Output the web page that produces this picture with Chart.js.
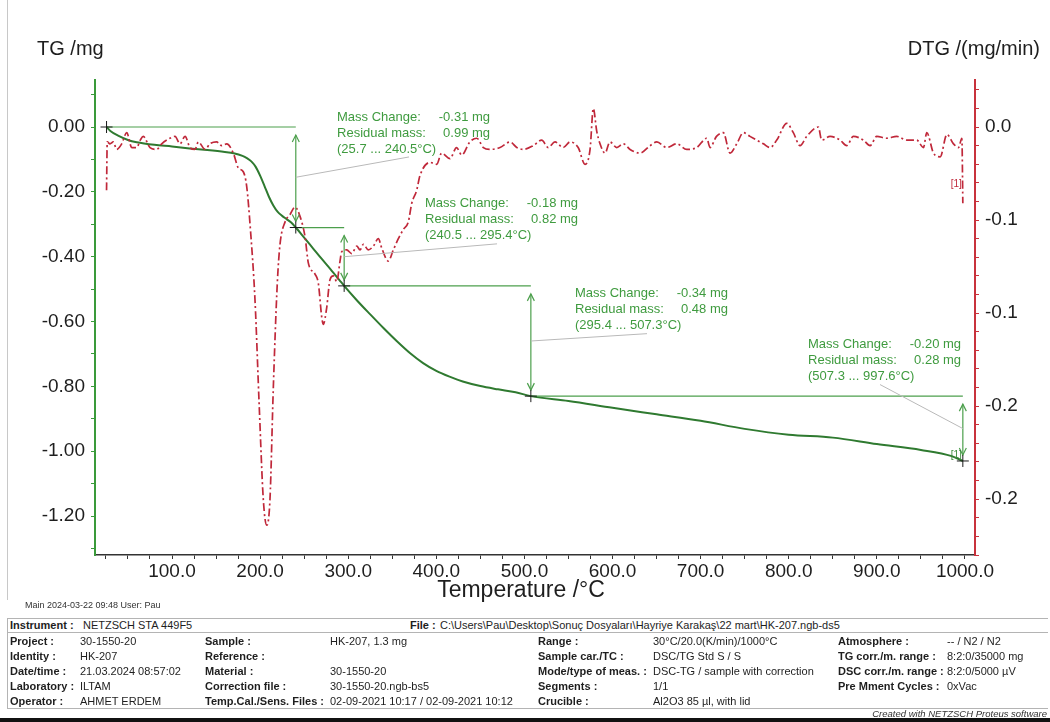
<!DOCTYPE html>
<html>
<head>
<meta charset="utf-8">
<title>HK-207 TG / DTG</title>
<script src="https://cdn.jsdelivr.net/npm/chart.js@4.4.1/dist/chart.umd.min.js"></script>
<style>
  html, body { margin: 0; padding: 0; background: #fff; }
  body { width: 1050px; height: 722px; position: relative; overflow: hidden;
         font-family: "Liberation Sans", Arial, sans-serif; }
  #plot { position: absolute; left: 0; top: 0; }
  .vline { position: absolute; left: 7px; top: 0; width: 1px; height: 600px; background: #c8c8c8; }
  .hl { position: absolute; left: 7px; width: 1041px; height: 1px; background: #b4b4b4; }
  .box { position: absolute; left: 7px; top: 618px; width: 1040px; height: 89px;
         border: 1px solid #b4b4b4; border-right: none; }
  .bar { position: absolute; left: 0; top: 718px; width: 1050px; height: 4px; background: #111; }
  .t { position: absolute; white-space: nowrap; font-size: 11px; line-height: 13px; color: #1e1e1e; }
  .b { font-weight: bold; }
  .small { font-size: 9px; color: #333; }
  .foot { font-size: 9.5px; font-style: italic; color: #333; }
</style>
</head>
<body>
<canvas id="plot" width="1050" height="610"></canvas>
<div class="vline"></div>
<div class="box"></div>
<div class="hl" style="top:632px"></div>
<div class="bar"></div>
<div id="info"></div>

<script>
// ---- measured curves -------------------------------------------------------
// TG: temperature (°C) and mass change (mg)
const tgTemp = [25.7, 30, 40, 50, 60, 80, 100, 120, 140, 160, 170, 180, 185, 190, 195,
  200, 205, 210, 215, 220, 225, 230, 235, 240.5, 250, 260, 270, 280, 290, 295.4,
  310, 325, 340, 355, 370, 385, 400, 415, 430, 450, 470, 490, 507.3,
  550, 600, 650, 700, 750, 800, 850, 900, 950, 985, 997.6];
const tgMass = [0.000, -0.012, -0.028, -0.040, -0.047, -0.055, -0.060, -0.066, -0.071, -0.077, -0.081, -0.089, -0.096, -0.106, -0.123,
  -0.150, -0.182, -0.215, -0.242, -0.262, -0.274, -0.284, -0.294, -0.310, -0.341, -0.374, -0.407, -0.439, -0.472, -0.490,
  -0.535, -0.578, -0.620, -0.660, -0.697, -0.728, -0.752, -0.770, -0.785, -0.799, -0.809, -0.818, -0.830,
  -0.845, -0.866, -0.886, -0.906, -0.931, -0.949, -0.958, -0.978, -0.996, -1.015, -1.030];

// DTG: temperature (°C) and rate (mg/min)
const dtgTemp = [25.7, 26.5, 29.6, 33.4, 37.2, 42.9, 48.6, 54.3, 59.9, 64, 67.4, 75, 82.6, 88.3, 97.7,
  103.4, 109.1, 114.8, 120.4, 126.1, 129.9, 137.5, 143.1, 150.7, 156.4, 162.1, 169.6, 175.3, 180.9, 184.8,
  189, 194.2, 199, 203.6, 207.5, 211.2, 215, 219.5, 222.6, 228.3, 234, 239.6, 245.3, 251, 254.7,
  262.3, 266.1, 269.9, 271.7, 275.6, 279.3, 283.1, 287, 290.7, 292.6, 298.3, 304, 309.7, 313.4, 317.2,
  322.8, 328.5, 334.2, 338, 345.5, 351.2, 356.9, 362.6, 368.2, 372.1, 377.7, 381.5, 392.8, 400.4, 406,
  415.5, 423, 428.8, 438, 445.9, 453.4, 461, 472.3, 483.7, 491.3, 498.8, 510, 519.6, 527, 534.7,
  544, 551.8, 561, 568.8, 574.5, 578.2, 582, 585.8, 591.5, 597, 604.8, 612.3, 619.9, 631.2, 642.6,
  650.2, 661.5, 672.9, 684.2, 695.6, 706.9, 710.7, 718, 725.7, 733.4, 741, 748.5, 756, 763.7, 771.2,
  778.8, 786.4, 797.7, 805.2, 812.8, 820.4, 833.6, 837.4, 846.9, 858.2, 865.8, 873.3, 884.7, 892.3, 899.9,
  911.2, 922.6, 934, 945.3, 952.9, 956.7, 964.3, 971.9, 979.5, 987, 992.7, 996.5, 997.6];
const dtgRate = [-0.034, -0.008, -0.009, -0.008, -0.012, -0.009, -0.003, -0.011, -0.011, -0.007, -0.005, -0.011, -0.012, -0.009, -0.006,
  -0.005, -0.009, -0.005, -0.011, -0.012, -0.008, -0.012, -0.009, -0.008, -0.010, -0.009, -0.014, -0.022, -0.024, -0.032,
  -0.055, -0.093, -0.150, -0.200, -0.214, -0.200, -0.140, -0.084, -0.063, -0.051, -0.047, -0.043, -0.048, -0.059, -0.073,
  -0.079, -0.084, -0.102, -0.106, -0.097, -0.082, -0.080, -0.083, -0.072, -0.067, -0.066, -0.068, -0.064, -0.066, -0.063,
  -0.066, -0.064, -0.060, -0.065, -0.072, -0.066, -0.060, -0.055, -0.051, -0.041, -0.034, -0.026, -0.019, -0.020, -0.014,
  -0.017, -0.011, -0.015, -0.008, -0.006, -0.011, -0.012, -0.011, -0.008, -0.011, -0.012, -0.010, -0.007, -0.011, -0.008,
  -0.011, -0.008, -0.011, -0.020, -0.012, 0.010, -0.002, -0.009, -0.014, -0.008, -0.011, -0.009, -0.012, -0.014, -0.010,
  -0.008, -0.011, -0.009, -0.012, -0.011, -0.006, -0.011, -0.005, -0.003, -0.014, -0.009, -0.003, -0.005, -0.007, -0.009,
  -0.011, -0.007, 0.002, -0.003, -0.010, -0.005, 0.000, -0.007, -0.005, -0.007, -0.010, -0.005, -0.007, -0.010, -0.005,
  -0.006, -0.005, -0.007, -0.007, -0.011, -0.003, -0.014, -0.016, -0.004, -0.009, -0.011, -0.006, -0.041];

// ---- evaluated mass-loss steps -------------------------------------------
const stepStart    = [25.7, 240.5, 295.4, 507.3];
const stepEnd      = [240.5, 295.4, 507.3, 997.6];
const massChange   = [-0.31, -0.18, -0.34, -0.20];
const residualMass = [0.99, 0.82, 0.48, 0.28];

// ---- axis tick labels ------------------------------------------------------
const dtgTickLabels = ['0.0', '-0.1', '-0.1', '-0.2', '-0.2'];

// ---- measurement header table ---------------------------------------------
const infoRows = [
  ['Project :', '30-1550-20', 'Sample :', 'HK-207, 1.3 mg', 'Range :', '30°C/20.0(K/min)/1000°C', 'Atmosphere :', '-- / N2 / N2'],
  ['Identity :', 'HK-207', 'Reference :', '', 'Sample car./TC :', 'DSC/TG Std S / S', 'TG corr./m. range :', '8:2:0/35000 mg'],
  ['Date/time :', '21.03.2024 08:57:02', 'Material :', '30-1550-20', 'Mode/type of meas. :', 'DSC-TG / sample with correction', 'DSC corr./m. range :', '8:2:0/5000 µV'],
  ['Laboratory :', 'ILTAM', 'Correction file :', '30-1550-20.ngb-bs5', 'Segments :', '1/1', 'Pre Mment Cycles :', '0xVac'],
  ['Operator :', 'AHMET ERDEM', 'Temp.Cal./Sens. Files :', '02-09-2021 10:17 / 02-09-2021 10:12', 'Crucible :', 'Al2O3 85 µl, with lid', '', '']
];

// build the header table as positioned text
(function buildInfo() {
  const host = document.getElementById('info');
  const add = (txt, x, y, cls) => {
    const d = document.createElement('div');
    d.className = 't ' + (cls || '');
    d.style.left = x + 'px';
    d.style.top = y + 'px';
    d.textContent = txt;
    host.appendChild(d);
    return d;
  };
  add('Main    2024-03-22 09:48    User: Pau', 25, 599, 'small');
  add('Instrument :', 10, 619, 'b');
  add('NETZSCH STA 449F5', 83, 619);
  add('File :', 410, 619, 'b');
  add('C:\\Users\\Pau\\Desktop\\Sonuç Dosyaları\\Hayriye Karakaş\\22 mart\\HK-207.ngb-ds5', 440, 619);
  const colX = [10, 80, 205, 330, 538, 653, 838, 947];
  const rowY = [635, 650, 664.5, 679.5, 694.5];
  infoRows.forEach((row, r) => {
    row.forEach((txt, c) => {
      if (txt) add(txt, colX[c], rowY[r], c % 2 === 0 ? 'b' : '');
    });
  });
  const f = add('Created with NETZSCH Proteus software', 0, 707, 'foot');
  f.style.left = 'auto';
  f.style.right = '3px';
})();

// ---- chart -----------------------------------------------------------------
const FONT = '"Liberation Sans", Arial, sans-serif';
Chart.defaults.font.family = FONT;

const GREEN_TXT = '#3f9b3f';
const GREEN_LINE = '#4c9f4c';

// step annotations: reference lines, double arrows, '+' marks and result text
const stepMarks = {
  id: 'stepMarks',
  afterDatasetsDraw(chart) {
    const { ctx, scales: { x, yTG, yDTG } } = chart;
    const px = t => x.getPixelForValue(t);
    const py = v => yTG.getPixelForValue(v);

    const levels = [0];
    massChange.forEach((m, i) => levels.push(Math.round((levels[i] + m) * 100) / 100));

    // where each result block sits (°C, mg)
    const textAt = [[287.3, 0.031], [387.2, -0.237], [557.4, -0.514], [821.9, -0.671]];

    ctx.save();
    ctx.lineCap = 'butt';

    const arrowHead = (xx, yy, dir) => {
      ctx.beginPath();
      ctx.moveTo(xx - 3.5, yy - dir * 7);
      ctx.lineTo(xx, yy);
      ctx.lineTo(xx + 3.5, yy - dir * 7);
      ctx.stroke();
    };
    const plus = (xx, yy) => {
      ctx.strokeStyle = '#1a1a1a';
      ctx.lineWidth = 1;
      ctx.beginPath();
      ctx.moveTo(xx - 6, yy); ctx.lineTo(xx + 6, yy);
      ctx.moveTo(xx, yy - 6); ctx.lineTo(xx, yy + 6);
      ctx.stroke();
    };

    for (let i = 0; i < massChange.length; i++) {
      const x0 = px(stepStart[i]), x1 = px(stepEnd[i]);
      const yA = py(levels[i]), yB = py(levels[i + 1]);

      // reference level of the step
      ctx.strokeStyle = GREEN_LINE;
      ctx.lineWidth = 1.2;
      ctx.beginPath();
      ctx.moveTo(x0, yA); ctx.lineTo(x1, yA);
      ctx.stroke();

      // double arrow spanning the step
      const top = yA + 8, bot = yB - 6;
      ctx.beginPath();
      ctx.moveTo(x1, top); ctx.lineTo(x1, bot);
      ctx.stroke();
      arrowHead(x1, top, -1);
      arrowHead(x1, bot, 1);

      // result text
      const tx = px(textAt[i][0]), ty = py(textAt[i][1]);
      ctx.fillStyle = GREEN_TXT;
      ctx.font = '13px ' + FONT;
      ctx.textBaseline = 'middle';
      ctx.textAlign = 'left';
      ctx.fillText('Mass Change:', tx, ty);
      ctx.fillText('Residual mass:', tx, ty + 16);
      ctx.fillText('(' + stepStart[i].toFixed(1) + ' ... ' + stepEnd[i].toFixed(1) + '°C)', tx, ty + 32);
      ctx.textAlign = 'right';
      ctx.fillText(massChange[i].toFixed(2) + ' mg', tx + 153, ty);
      ctx.fillText(residualMass[i].toFixed(2) + ' mg', tx + 153, ty + 16);

      // leader from the arrow to the text block
      ctx.strokeStyle = '#b9b9b9';
      ctx.lineWidth = 1;
      ctx.beginPath();
      ctx.moveTo(x1, (yA + yB) / 2);
      ctx.lineTo(tx + 72, ty + 40);
      ctx.stroke();
    }

    // '+' marks on the TG curve at every step limit
    plus(px(stepStart[0]), py(levels[0]));
    for (let i = 0; i < stepEnd.length; i++) plus(px(stepEnd[i]), py(levels[i + 1]));

    // segment markers at the curve ends
    ctx.font = '10px ' + FONT;
    ctx.textAlign = 'right';
    ctx.textBaseline = 'middle';
    ctx.fillStyle = '#3a8a3a';
    ctx.fillText('[1]', px(tgTemp[tgTemp.length - 1]) - 1, py(tgMass[tgMass.length - 1]) - 6);
    ctx.fillStyle = '#c0283a';
    ctx.fillText('[1]', px(dtgTemp[dtgTemp.length - 1]) - 1, yDTG.getPixelForValue(-0.031));

    // axis headings
    ctx.fillStyle = '#1e1e1e';
    ctx.font = '20px ' + FONT;
    ctx.textAlign = 'left';
    ctx.fillText('TG /mg', 37, 49);
    ctx.textAlign = 'right';
    ctx.fillText('DTG /(mg/min)', 1040, 49);
    ctx.font = '23px ' + FONT;
    ctx.textAlign = 'center';
    ctx.fillText('Temperature /°C', 521, 591);
    ctx.restore();
  }
};

const tickFont = { size: 19, family: FONT };

new Chart(document.getElementById('plot'), {
  type: 'line',
  data: {
    datasets: [
      {
        label: 'DTG',
        data: dtgTemp.map((t, i) => ({ x: t, y: dtgRate[i] })),
        yAxisID: 'yDTG',
        borderColor: '#c0283a',
        borderWidth: 1.7,
        borderDash: [8, 3, 2, 3],
        pointRadius: 0,
        cubicInterpolationMode: 'monotone',
        fill: false
      },
      {
        label: 'TG',
        data: tgTemp.map((t, i) => ({ x: t, y: tgMass[i] })),
        yAxisID: 'yTG',
        borderColor: '#2f7a30',
        borderWidth: 2,
        pointRadius: 0,
        cubicInterpolationMode: 'monotone',
        fill: false
      }
    ]
  },
  options: {
    responsive: false,
    animation: false,
    devicePixelRatio: 1,
    layout: { padding: { top: 80, left: 0, right: 0, bottom: 0 } },
    plugins: { legend: { display: false }, tooltip: { enabled: false } },
    scales: {
      x: {
        type: 'linear',
        position: 'bottom',
        min: 12.6,
        max: 1011.4,
        afterFit(s) { s.height = 55; },
        ticks: {
          stepSize: 25,
          includeBounds: false,
          autoSkip: false,
          maxRotation: 0,
          padding: 1,
          color: '#1e1e1e',
          font: tickFont,
          callback: v => (Math.round(v) % 100 === 0 ? v.toFixed(1) : '')
        },
        grid: { drawOnChartArea: false, tickLength: 4, tickColor: '#333', tickWidth: 1 },
        border: { color: '#333', width: 1.5 }
      },
      yTG: {
        type: 'linear',
        position: 'left',
        min: -1.32,
        max: 0.145,
        afterFit(s) { s.width = 95; },
        ticks: {
          stepSize: 0.1,
          includeBounds: false,
          autoSkip: false,
          padding: 6,
          color: '#1e1e1e',
          font: tickFont,
          callback: v => {
            const k = Math.round(v * 10);
            if (k % 2 !== 0) return '';
            return k === 0 ? '0.00' : (k / 10).toFixed(2);
          }
        },
        grid: { drawOnChartArea: false, tickLength: 4, tickColor: '#3a9a3a', tickWidth: 1 },
        border: { color: '#3a9a3a', width: 2 }
      },
      yDTG: {
        type: 'linear',
        position: 'right',
        min: -0.230,
        max: 0.0253,
        afterFit(s) { s.width = 75; },
        ticks: {
          stepSize: 0.01,
          includeBounds: false,
          autoSkip: false,
          padding: 6,
          color: '#1e1e1e',
          font: tickFont,
          callback: v => {
            const k = Math.round(v * 100);
            if (k % 5 !== 0) return '';
            return dtgTickLabels[Math.abs(k) / 5] || '';
          }
        },
        grid: { drawOnChartArea: false, tickLength: 4, tickColor: '#c8323c', tickWidth: 1 },
        border: { color: '#c8323c', width: 2 }
      }
    }
  },
  plugins: [stepMarks]
});
</script>
</body>
</html>
